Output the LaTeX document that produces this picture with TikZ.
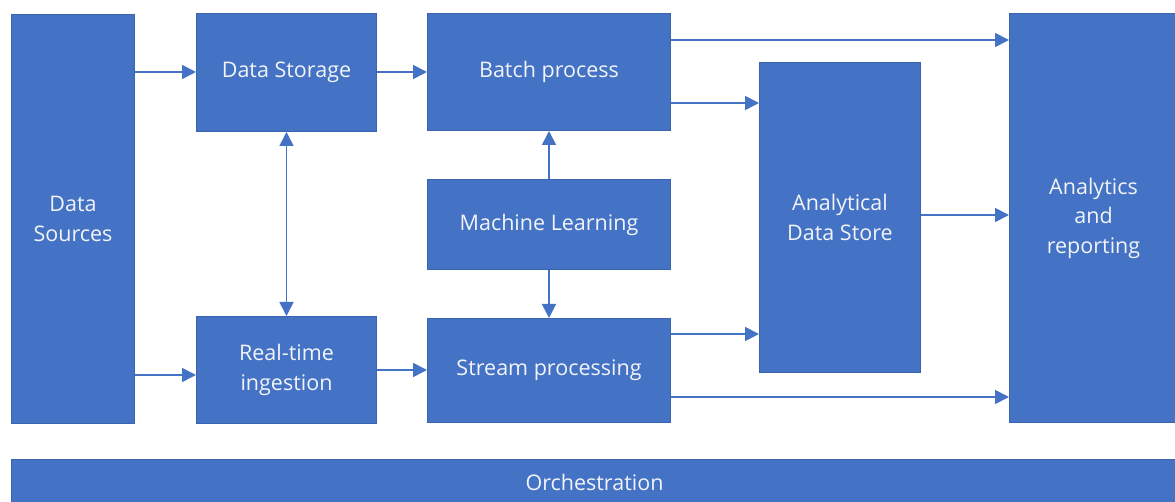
\documentclass[tikz,border=0pt]{standalone}
\usepackage{fontspec}
\setmainfont{Open Sans}
\usetikzlibrary{arrows.meta}
\definecolor{boxblue}{HTML}{4472C4}
\definecolor{boxedge}{HTML}{3B64AE}
\definecolor{labelwhite}{HTML}{F2F4F8}
\tikzset{
  blk/.style={draw=boxedge, line width=1pt, fill=boxblue, text=labelwhite,
    anchor=north west, inner sep=0pt, align=center,
    font=\fontsize{21.5}{29.5}\selectfont},
  arr/.style={draw=boxblue, line width=1.7pt,
    -{Triangle[length=14pt,width=14pt]}},
  darr/.style={draw=boxblue, line width=1.7pt,
    {Triangle[length=14pt,width=14pt]}-{Triangle[length=14pt,width=14pt]}}
}
\begin{document}
\begin{tikzpicture}[x=1pt,y=-1pt]
\useasboundingbox (0,0) rectangle (1175,502);

% processing stages
\node[blk, minimum width=123pt, minimum height=409pt] (src) at (11,14) {Data\\Sources};
\node[blk, minimum width=180pt, minimum height=118pt] (store) at (196,13) {Data Storage};
\node[blk, minimum width=180pt, minimum height=107pt] (rt) at (196,316) {Real-time\\ingestion};
\node[blk, minimum width=243pt, minimum height=117pt] (batch) at (427,13) {Batch process};
\node[blk, minimum width=243pt, minimum height=90pt] (ml) at (427,179) {Machine Learning};
\node[blk, minimum width=243pt, minimum height=104pt] (stream) at (427,318) {Stream processing};
\node[blk, minimum width=161pt, minimum height=310pt] (ads) at (759,62) {Analytical\\Data Store};
\node[blk, minimum width=168pt, minimum height=409pt] (ana) at (1009,13) {Analytics\\and\\reporting};
\node[blk, minimum width=1166pt, minimum height=45pt] (orch) at (11,459) {Orchestration};

% data flow
\draw[arr] (src.east |- 0,72) -- (store.west |- 0,72);
\draw[arr] (src.east |- 0,375) -- (rt.west |- 0,375);
\draw[arr] (store.east |- 0,72) -- (batch.west |- 0,72);
\draw[darr] (store.south) -- (rt.north);
\draw[arr] (rt.east |- 0,370) -- (stream.west |- 0,370);
\draw[arr] (ml.north) -- (batch.south);
\draw[arr] (ml.south) -- (stream.north);
\draw[arr] (batch.east |- 0,40) -- (ana.west |- 0,40);
\draw[arr] (batch.east |- 0,103) -- (ads.west |- 0,103);
\draw[arr] (stream.east |- 0,334) -- (ads.west |- 0,334);
\draw[arr] (stream.east |- 0,397) -- (ana.west |- 0,397);
\draw[arr] (ads.east |- 0,215) -- (ana.west |- 0,215);
\end{tikzpicture}
\end{document}
